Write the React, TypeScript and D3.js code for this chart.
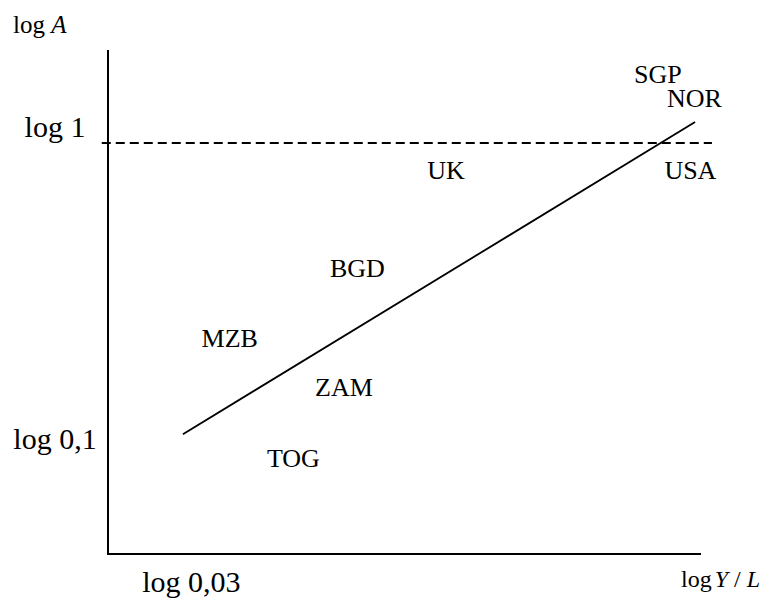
import React, { useEffect, useRef } from 'react';
import * as d3 from 'd3';

// log-scale positions (log10 values)
const countries = ['SGP', 'NOR', 'USA', 'UK', 'BGD', 'MZB', 'ZAM', 'TOG'];
const logIncome = [-0.028, 0.089, 0.076, -0.707, -0.991, -1.4, -1.034, -1.196];
const logA = [0.221, 0.144, -0.087, -0.087, -0.401, -0.625, -0.782, -1.01];

// fitted line endpoints
const trendX = [-1.55, 0.091];
const trendY = [-0.933, 0.067];

// dashed reference line at log 1
const refLevel = 0;
const refExtent = [-1.81, 0.145];

const yTicks = [0, -1];
const yTickLabels = ['log 1', 'log 0,1'];
const xTicks = [-1.523];
const xTickLabels = ['log 0,03'];

const W = 770;
const H = 598;
const FONT = 'Liberation Serif, DejaVu Serif, serif';

const App = () => {
    const ref = useRef<SVGSVGElement | null>(null);

    useEffect(() => {
        const svg = d3.select(ref.current);
        svg.selectAll('*').remove();

        const x = d3.scaleLinear().domain([-1.79, 0.11]).range([108, 701]);
        const y = d3.scaleLinear().domain([-1.317, 0.298]).range([554, 50]);

        // axes (plain lines, no ticks in the original)
        svg.append('line')
            .attr('x1', x(-1.79)).attr('x2', x(-1.79))
            .attr('y1', y(0.298)).attr('y2', y(-1.317))
            .attr('stroke', '#000').attr('stroke-width', 2);
        svg.append('line')
            .attr('x1', x(-1.79) - 1).attr('x2', x(0.11))
            .attr('y1', y(-1.317)).attr('y2', y(-1.317))
            .attr('stroke', '#000').attr('stroke-width', 2);

        // dashed line
        svg.append('line')
            .attr('x1', x(refExtent[0])).attr('x2', x(refExtent[1]))
            .attr('y1', y(refLevel)).attr('y2', y(refLevel))
            .attr('stroke', '#000').attr('stroke-width', 1.8)
            .attr('stroke-dasharray', '9,5');

        // trend line
        const line = d3.line<number>()
            .x((d, i) => x(trendX[i]))
            .y(d => y(d));
        svg.append('path')
            .datum(trendY)
            .attr('fill', 'none')
            .attr('stroke', '#000')
            .attr('stroke-width', 1.8)
            .attr('d', line);

        // y tick labels
        svg.selectAll('.ytick')
            .data(yTicks)
            .enter().append('text')
            .attr('class', 'ytick')
            .attr('x', 55)
            .attr('y', d => y(d) - 6)
            .attr('text-anchor', 'middle')
            .style('font-size', '30px')
            .text((d, i) => yTickLabels[i]);

        // x tick labels
        svg.selectAll('.xtick')
            .data(xTicks)
            .enter().append('text')
            .attr('class', 'xtick')
            .attr('x', d => x(d))
            .attr('y', 592)
            .attr('text-anchor', 'middle')
            .style('font-size', '30px')
            .text((d, i) => xTickLabels[i]);

        // axis titles
        const yTitle = svg.append('text')
            .attr('x', 13).attr('y', 33)
            .style('font-size', '25px');
        yTitle.append('tspan').text('log ');
        yTitle.append('tspan').style('font-style', 'italic').text('A');

        const xTitle = svg.append('text')
            .attr('x', 681).attr('y', 587)
            .style('font-size', '24px');
        xTitle.append('tspan').text('log');
        xTitle.append('tspan').attr('dx', 3).style('font-style', 'italic').text('Y');
        xTitle.append('tspan').text(' / ');
        xTitle.append('tspan').style('font-style', 'italic').text('L');

        // country labels
        svg.selectAll('.country')
            .data(countries)
            .enter().append('text')
            .attr('class', 'country')
            .attr('x', (d, i) => x(logIncome[i]))
            .attr('y', (d, i) => y(logA[i]))
            .attr('dy', '0.33em')
            .attr('text-anchor', 'middle')
            .style('font-size', '26px')
            .text(d => d);
    }, []);

    return (
        <div style={{ position: 'absolute', left: 0, top: 0, background: '#fff' }}>
            <svg ref={ref} width={W} height={H} style={{ display: 'block', fontFamily: FONT }} />
        </div>
    );
};

export default App;
